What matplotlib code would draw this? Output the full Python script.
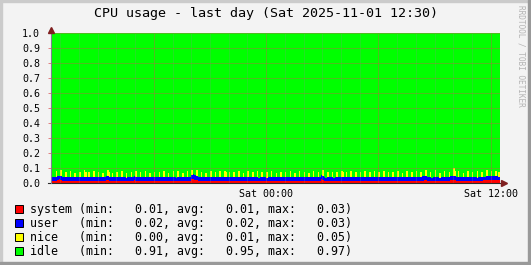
# -*- coding: utf-8 -*-
import numpy as np
import matplotlib
matplotlib.use('Agg')
import matplotlib.pyplot as plt
from matplotlib.patches import Rectangle

# 5-minute samples, Fri 12:30 .. Sat 12:30, values in thousandths of a CPU
system = [
    15, 14, 14, 14, 22, 24, 20, 14, 13, 14, 14, 15, 14, 13, 14, 14, 15, 14, 13, 14, 14, 15, 14, 13,
    14, 15, 14, 13, 14, 14, 15, 14, 13, 14, 14, 20, 22, 14, 13, 14, 15, 14, 14, 13, 14, 15, 14, 14,
    13, 14, 15, 14, 14, 22, 14, 13, 14, 15, 14, 14, 13, 14, 15, 14, 14, 13, 14, 14, 15, 14, 13, 14,
    14, 15, 14, 13, 14, 14, 15, 14, 13, 14, 14, 15, 14, 14, 13, 14, 15, 14, 24, 28, 22, 18, 14, 14,
    14, 13, 14, 15, 14, 14, 13, 14, 15, 14, 14, 13, 14, 15, 14, 14, 13, 14, 14, 15, 14, 13, 14, 14,
    15, 14, 13, 14, 14, 15, 14, 13, 14, 14, 15, 14, 14, 13, 14, 15, 14, 14, 13, 14, 15, 14, 14, 13,
    14, 15, 14, 14, 13, 14, 15, 14, 14, 13, 14, 15, 14, 14, 13, 14, 15, 14, 14, 13, 14, 15, 14, 14,
    14, 13, 14, 15, 14, 26, 20, 14, 13, 14, 15, 14, 14, 13, 14, 15, 14, 14, 13, 14, 15, 14, 14, 13,
    14, 15, 14, 14, 13, 14, 15, 14, 14, 13, 14, 15, 14, 14, 13, 14, 15, 14, 14, 13, 14, 15, 14, 14,
    13, 14, 15, 14, 14, 13, 14, 15, 14, 14, 13, 14, 15, 14, 14, 13, 14, 15, 14, 14, 13, 14, 16, 18,
    17, 15, 14, 14, 13, 14, 15, 14, 14, 13, 14, 15, 14, 14, 13, 14, 18, 20, 19, 17, 15, 14, 14, 13,
    14, 15, 14, 14, 13, 14, 15, 14, 14, 13, 14, 15, 14, 18, 20, 21, 20, 19, 20, 21, 20, 19, 20, 18,
]
user = [
    27, 26, 27, 26, 25, 26, 25, 24, 24, 25, 24, 23, 24, 25, 24, 23, 24, 24, 25, 24, 23, 24, 25, 24,
    24, 23, 24, 25, 24, 24, 23, 24, 25, 24, 23, 24, 24, 25, 24, 23, 24, 25, 24, 24, 23, 24, 25, 24,
    23, 24, 25, 24, 24, 23, 24, 25, 24, 23, 24, 24, 25, 24, 23, 24, 25, 24, 24, 23, 24, 25, 24, 23,
    24, 25, 24, 24, 23, 24, 25, 24, 23, 24, 25, 24, 24, 23, 24, 25, 24, 24, 28, 30, 29, 27, 24, 24,
    23, 24, 25, 24, 24, 23, 24, 25, 24, 23, 24, 24, 25, 24, 23, 24, 25, 24, 24, 23, 24, 25, 24, 23,
    24, 25, 24, 24, 23, 24, 25, 24, 23, 24, 25, 24, 24, 23, 24, 25, 24, 24, 23, 24, 25, 24, 23, 24,
    25, 24, 24, 23, 24, 25, 24, 23, 24, 24, 25, 24, 23, 24, 25, 24, 24, 23, 24, 25, 24, 23, 24, 25,
    24, 24, 23, 24, 25, 28, 26, 24, 23, 24, 25, 24, 24, 23, 24, 25, 24, 23, 24, 24, 25, 24, 23, 24,
    25, 24, 24, 23, 24, 25, 24, 23, 24, 25, 24, 24, 23, 24, 25, 24, 24, 23, 24, 25, 24, 23, 24, 24,
    25, 24, 23, 24, 25, 24, 24, 23, 24, 25, 24, 23, 24, 24, 25, 24, 23, 24, 25, 24, 24, 28, 29, 28,
    29, 28, 25, 24, 23, 24, 25, 24, 24, 23, 24, 25, 24, 23, 24, 25, 28, 30, 29, 30, 28, 27, 24, 24,
    23, 24, 25, 24, 24, 23, 24, 25, 24, 23, 24, 24, 25, 24, 23, 24, 24, 25, 24, 23, 24, 25, 24, 23,
]
nice = [
    0, 0, 0, 38, 0, 0, 43, 0, 0, 33, 0, 0, 41, 0, 0, 31, 0, 0, 36, 0, 0, 48, 33, 0,
    33, 0, 0, 39, 0, 0, 35, 0, 0, 31, 0, 0, 41, 33, 0, 33, 0, 0, 37, 0, 0, 43, 0, 0,
    32, 0, 0, 36, 0, 0, 40, 0, 0, 33, 0, 0, 44, 0, 0, 31, 0, 0, 38, 0, 0, 35, 0, 0,
    41, 0, 0, 33, 0, 0, 37, 0, 0, 42, 0, 0, 32, 0, 0, 39, 0, 0, 34, 0, 0, 45, 0, 0,
    36, 0, 0, 31, 0, 0, 40, 0, 0, 34, 0, 0, 38, 0, 0, 43, 33, 0, 33, 0, 0, 36, 0, 0,
    41, 0, 0, 32, 0, 0, 39, 0, 0, 35, 0, 0, 44, 0, 0, 33, 0, 0, 37, 0, 0, 40, 0, 0,
    31, 0, 0, 38, 0, 0, 34, 0, 0, 42, 0, 0, 33, 0, 0, 39, 0, 0, 36, 0, 0, 32, 0, 0,
    43, 0, 0, 35, 0, 0, 41, 0, 0, 33, 0, 0, 38, 0, 0, 31, 0, 0, 45, 33, 0, 34, 0, 0,
    39, 0, 0, 37, 0, 0, 32, 0, 0, 41, 0, 0, 35, 0, 0, 40, 0, 0, 33, 0, 0, 43, 0, 0,
    36, 0, 0, 34, 0, 0, 39, 0, 0, 31, 0, 0, 42, 0, 0, 36, 0, 0, 38, 0, 0, 33, 0, 0,
    41, 0, 0, 37, 0, 0, 44, 0, 0, 33, 0, 0, 39, 0, 0, 35, 0, 0, 50, 33, 0, 38, 0, 0,
    32, 0, 0, 40, 0, 0, 36, 0, 0, 43, 0, 0, 34, 0, 0, 39, 0, 0, 33, 0, 0, 37, 0, 32,
]

names = ['system', 'user', 'nice', 'idle']
colors = ['#FF0000', '#0000FF', '#FFFF00', '#00FF00']
stat_min = [0.01, 0.02, 0.00, 0.91]
stat_avg = [0.01, 0.02, 0.01, 0.95]
stat_max = [0.03, 0.03, 0.05, 0.97]

W, H = 531, 265
fig = plt.figure(figsize=(W / 100.0, H / 100.0), dpi=100)
fig.patch.set_facecolor('#F3F3F3')
mono = 'DejaVu Sans Mono'

# frame shading
fig.patches.append(Rectangle((0, 0), 2.0 / W, 1, transform=fig.transFigure, color='#CBCBCB', zorder=0))
fig.patches.append(Rectangle((0, 1 - 2.0 / H), 1, 2.0 / H, transform=fig.transFigure, color='#CBCBCB', zorder=0))
fig.patches.append(Rectangle((1 - 3.0 / W, 0), 3.0 / W, 1, transform=fig.transFigure, color='#999999', zorder=0))
fig.patches.append(Rectangle((0, 0), 1, 3.0 / H, transform=fig.transFigure, color='#999999', zorder=0))

x0, x1, ytop, ybot = 51, 500, 33, 183
ax = fig.add_axes([x0 / W, 1 - ybot / H, (x1 - x0) / W, (ybot - ytop) / H])
ax.set_facecolor('#FFFFFF')

# hours relative to Sat 00:00
edges = np.arange(len(system) + 1) * 5.0 / 60.0 - 11.5
s = np.array(system) / 1000.0
u = np.array(user) / 1000.0
n = np.array(nice) / 1000.0
idle = 1.0 - (s + u + n)  # idle fills the remainder to 1.0

# stacked areas: draw the cumulative tops from the highest down
layers = [s, u, n, idle]
tops = np.cumsum(np.vstack(layers), axis=0)
for k in range(len(layers) - 1, -1, -1):
    ax.stairs(tops[k], edges, baseline=0, fill=True, color=colors[k], lw=0,
              antialiased=False, zorder=1)

ax.set_xlim(-11.5, 12.5)
ax.set_ylim(0, 1.0)
for sp in ax.spines.values():
    sp.set_visible(False)

# grid: minor every hour, major every 6 hours
dots = (0, (1, 1))
for h in range(-11, 13):
    if h % 6 == 0:
        ax.axvline(h, color='#D05050', lw=0.72, ls=dots, alpha=0.75, zorder=2)
    else:
        ax.axvline(h, color='#909090', lw=0.72, ls=dots, alpha=0.45, zorder=2)
for yv in np.arange(0.1, 1.01, 0.1):
    ax.axhline(yv, color='#D05050', lw=0.72, ls=dots, alpha=0.75, zorder=2)

ax.set_yticks(np.round(np.arange(0, 1.01, 0.1), 1))
ax.set_yticklabels(['%.1f' % v for v in np.arange(0, 1.01, 0.1)], fontfamily=mono, fontsize=7.2)
ax.set_xticks([0, 12])
ax.set_xticklabels(['Sat 00:00', 'Sat 12:00'], fontfamily=mono, fontsize=7.2)
ax.tick_params(axis='y', length=2, width=0.7, color='#E08080', pad=6)
ax.tick_params(axis='x', length=0, pad=4)

# axes with arrows
ax.plot([-3.0 / (x1 - x0), 1.0], [0, 0], transform=ax.transAxes, color='#2C2C2C', lw=0.8, clip_on=False, zorder=4)
ax.plot([0, 0], [0, 1.0], transform=ax.transAxes, color='#7F7F8F', lw=0.8, clip_on=False, zorder=4)
ax.plot([(x1 + 3.5 - x0) / (x1 - x0)], [0], marker='>', ms=5, color='#7F1F1F', transform=ax.transAxes, clip_on=False, zorder=5)
ax.plot([0], [1 + 3.0 / (ybot - ytop)], marker='^', ms=5, color='#7F1F1F', transform=ax.transAxes, clip_on=False, zorder=5)

fig.text(265.5 / W, 1 - 13.0 / H, 'CPU usage - last day (Sat 2025-11-01 12:30)', ha='center', va='center', fontfamily=mono, fontsize=9.6)
fig.text(521.0 / W, 1 - 5.0 / H, 'RRDTOOL / TOBI OETIKER', rotation=270, ha='center', va='top', fontfamily=mono, fontsize=5.6, color='#B4B4B4')

# legend
for i in range(len(names)):
    yc = 209.3 + 14.0 * i
    fig.patches.append(Rectangle((15.0 / W, 1 - (yc + 4) / H), 8.0 / W, 8.0 / H, transform=fig.transFigure,
                                 facecolor=colors[i], edgecolor='#000000', lw=0.7, zorder=3))
    txt = '%-7s(min:%7.2f, avg:%7.2f, max:%7.2f)' % (names[i], stat_min[i], stat_avg[i], stat_max[i])
    fig.text(30.0 / W, 1 - yc / H, txt, ha='left', va='center', fontfamily=mono, fontsize=8.4)

fig.savefig('out.png', dpi=100, facecolor=fig.get_facecolor())
